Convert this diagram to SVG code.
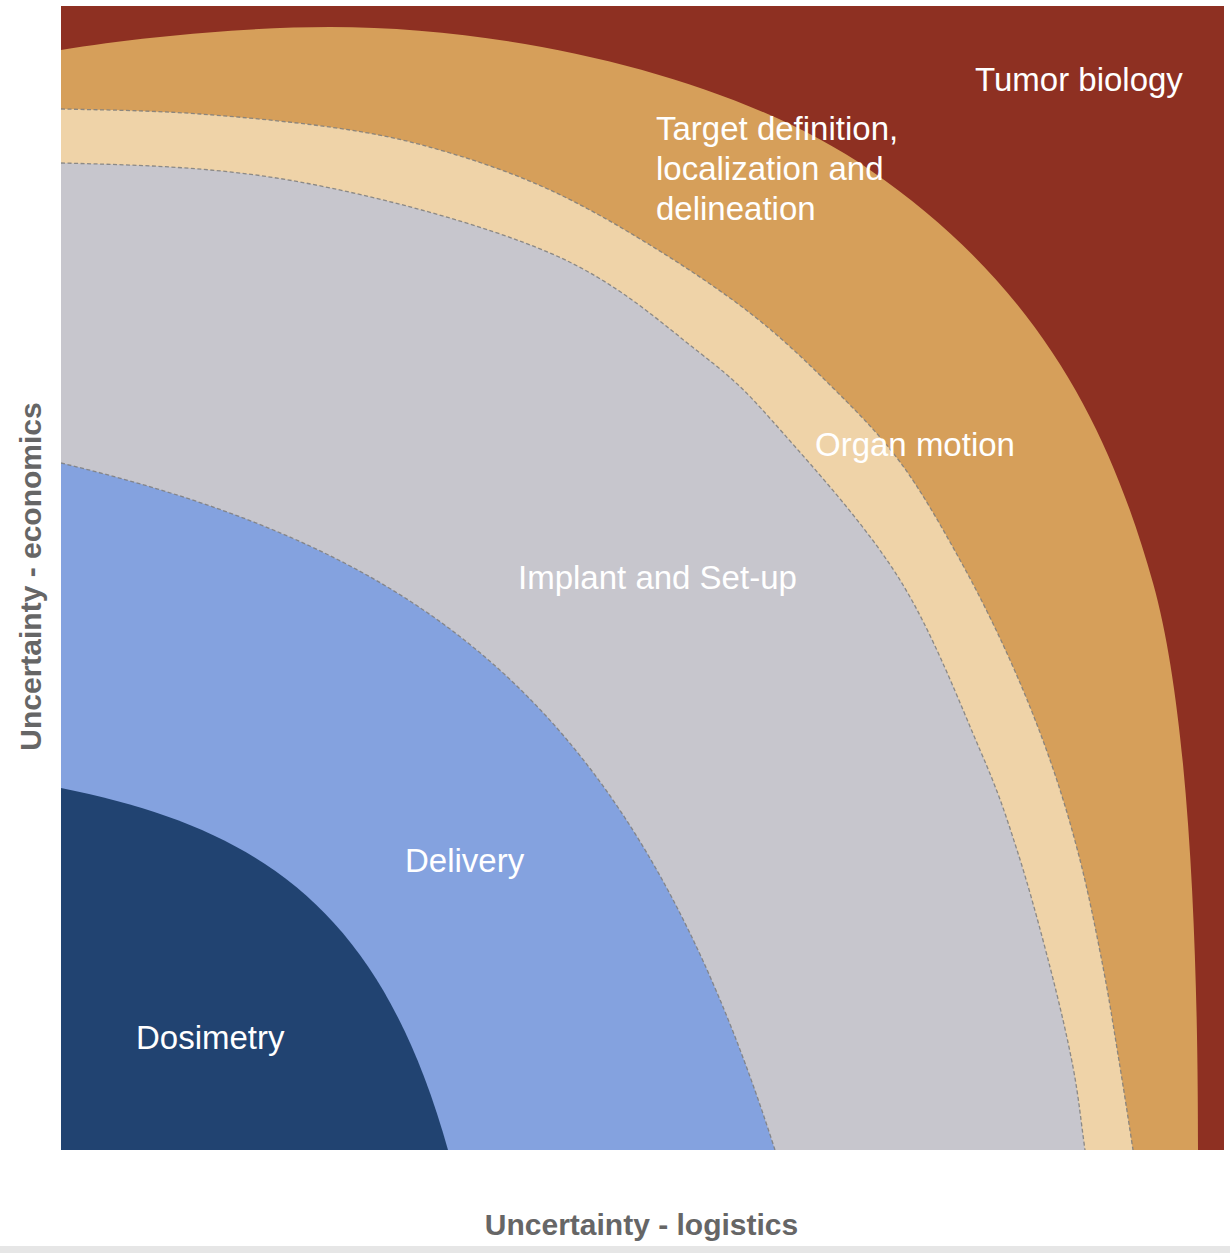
<svg xmlns="http://www.w3.org/2000/svg" width="1230" height="1253" viewBox="0 0 1230 1253">
<style>
.lbl{font-family:"Liberation Sans",Arial,Helvetica,sans-serif;font-size:33px;fill:#ffffff}
.axis{font-family:"Liberation Sans",Arial,Helvetica,sans-serif;font-size:30px;font-weight:bold;fill:#666666}
.dash{fill:none;stroke:#7d7d7d;stroke-opacity:0.85;stroke-width:1.3;stroke-dasharray:4 2.5}
</style>
<defs>
<clipPath id="plot"><rect x="61" y="6" width="1163" height="1144"/></clipPath>
</defs>
<rect width="1230" height="1253" fill="#ffffff"/>
<rect x="0" y="1246" width="1230" height="7" fill="#e6e6e6"/>
<g clip-path="url(#plot)">
<g id="tumor-biology"><rect x="61" y="6" width="1163" height="1144" fill="#8e3022"/></g>
<g id="target-definition"><path fill="#d69f5a" d="M61,1150 L61,50 C140,37 250,27 330,27 C520,27 740,80 870,170 C1040,287 1109.8,429.4 1153,583 C1193.5,727 1198,1000 1198,1150 Z"/></g>
<g id="organ-motion"><path fill="#efd3a8" d="M61,1150 L61,109 C107,110 151.8,110.5 200,114 C248.2,117.5 308.3,123.5 350,130 C391.7,136.5 416.7,143 450,153 C483.3,163 516.7,174.7 550,190 C583.3,205.3 616.7,224.5 650,245 C683.3,265.5 720,289.7 750,313 C780,336.3 805,360.2 830,385 C855,409.8 878.3,432.8 900,462 C921.7,491.2 941.7,527 960,560 C978.3,593 995,626.7 1010,660 C1025,693.3 1038.3,726.7 1050,760 C1061.7,793.3 1071.2,825.5 1080,860 C1088.8,894.5 1096.3,932.5 1103,967 C1109.7,1001.5 1115,1036.5 1120,1067 C1125,1097.5 1128.7,1122.3 1133,1150 Z"/></g>
<g id="implant-setup"><path fill="#c7c6cd" d="M61,1150 L61,163 C141,165 218.5,167 300,182 C381.5,197 483.3,224.5 550,253 C616.7,281.5 661.2,323 700,353 C738.8,383 749.7,395.2 783,433 C816.3,470.8 867.2,527.2 900,580 C932.8,632.8 960.5,705 980,750 C999.5,795 1005.3,813.8 1017,850 C1028.7,886.2 1040.7,930.8 1050,967 C1059.3,1003.2 1067.2,1036.5 1073,1067 C1078.8,1097.5 1081,1122 1085,1150 Z"/></g>
<g id="delivery"><path fill="#84a2df" d="M61,1150 L61,463 C431,552 633,706 775,1150 Z"/></g>
<g id="dosimetry"><path fill="#214371" d="M61,1150 L61,788 C261,828 381,910 448,1150 Z"/></g>
<g id="connectors">
<path class="dash" d="M61,109 C107,110 151.8,110.5 200,114 C248.2,117.5 308.3,123.5 350,130 C391.7,136.5 416.7,143 450,153 C483.3,163 516.7,174.7 550,190 C583.3,205.3 616.7,224.5 650,245 C683.3,265.5 720,289.7 750,313 C780,336.3 805,360.2 830,385 C855,409.8 878.3,432.8 900,462 C921.7,491.2 941.7,527 960,560 C978.3,593 995,626.7 1010,660 C1025,693.3 1038.3,726.7 1050,760 C1061.7,793.3 1071.2,825.5 1080,860 C1088.8,894.5 1096.3,932.5 1103,967 C1109.7,1001.5 1115,1036.5 1120,1067 C1125,1097.5 1128.7,1122.3 1133,1150"/>
<path class="dash" d="M61,163 C141,165 218.5,167 300,182 C381.5,197 483.3,224.5 550,253 C616.7,281.5 661.2,323 700,353 C738.8,383 749.7,395.2 783,433 C816.3,470.8 867.2,527.2 900,580 C932.8,632.8 960.5,705 980,750 C999.5,795 1005.3,813.8 1017,850 C1028.7,886.2 1040.7,930.8 1050,967 C1059.3,1003.2 1067.2,1036.5 1073,1067 C1078.8,1097.5 1081,1122 1085,1150"/>
<path class="dash" d="M61,463 C431,552 633,706 775,1150"/>
</g>
</g>
<g id="labels">
<text class="lbl" x="975" y="91">Tumor biology</text>
<text class="lbl" x="656" y="140">Target definition,</text>
<text class="lbl" x="656" y="180">localization and</text>
<text class="lbl" x="656" y="220">delineation</text>
<text class="lbl" x="815" y="456">Organ motion</text>
<text class="lbl" x="518" y="589">Implant and Set-up</text>
<text class="lbl" x="405" y="872">Delivery</text>
<text class="lbl" x="136" y="1049">Dosimetry</text>
<text class="axis" x="641.5" y="1235" text-anchor="middle">Uncertainty - logistics</text>
<text class="axis" transform="translate(41,576.5) rotate(-90)" text-anchor="middle">Uncertainty - economics</text>
</g>
</svg>
